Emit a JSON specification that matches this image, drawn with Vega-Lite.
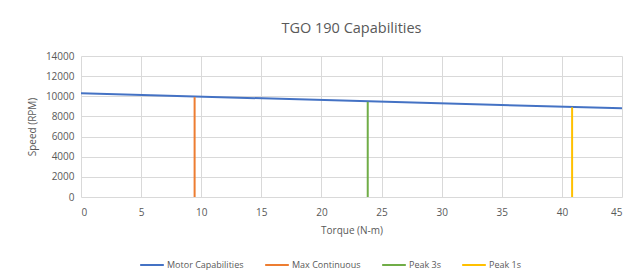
{
  "$schema": "https://vega.github.io/schema/vega-lite/v6.json",
  "width": 541,
  "height": 141,
  "autosize": {"type": "none"},
  "padding": {"left": 81, "top": 56, "right": 9, "bottom": 78},
  "background": "white",
  "title": {
    "text": "TGO 190 Capabilities",
    "font": "Open Sans",
    "fontSize": 14.5,
    "fontWeight": "normal",
    "color": "#595959",
    "offset": 15
  },
  "data": {
    "values": [
      {"series": "Motor Capabilities", "torque": 0, "speed": 10300, "o": 0},
      {"series": "Motor Capabilities", "torque": 45, "speed": 8800, "o": 1},
      {"series": "Max Continuous", "torque": 9.45, "speed": 0, "o": 0},
      {"series": "Max Continuous", "torque": 9.45, "speed": 9920, "o": 1},
      {"series": "Peak 3s", "torque": 23.85, "speed": 0, "o": 0},
      {"series": "Peak 3s", "torque": 23.85, "speed": 9450, "o": 1},
      {"series": "Peak 1s", "torque": 40.85, "speed": 0, "o": 0},
      {"series": "Peak 1s", "torque": 40.85, "speed": 8900, "o": 1}
    ]
  },
  "mark": {"type": "line", "strokeWidth": 2},
  "encoding": {
    "x": {
      "field": "torque", "type": "quantitative",
      "scale": {"domain": [0, 45], "nice": false, "zero": true},
      "axis": {"values": [0,5,10,15,20,25,30,35,40,45], "title": "Torque (N-m)", "titlePadding": 8, "labelPadding": 10}
    },
    "y": {
      "field": "speed", "type": "quantitative",
      "scale": {"domain": [0, 14000], "nice": false},
      "axis": {"values": [0,2000,4000,6000,8000,10000,12000,14000], "format": "d", "title": "Speed (RPM)", "titlePadding": 8}
    },
    "color": {
      "field": "series", "type": "nominal",
      "scale": {
        "domain": ["Motor Capabilities", "Max Continuous", "Peak 3s", "Peak 1s"],
        "range": ["#4472C4", "#ED7D31", "#70AD47", "#FFC000"]
      },
      "legend": {
        "title": null,
        "orient": "none",
        "legendX": 58,
        "legendY": 196,
        "direction": "horizontal",
        "symbolType": "stroke",
        "symbolSize": 560,
        "symbolStrokeWidth": 2,
        "columnPadding": 17,
        "labelOffset": 2
      }
    },
    "order": {"field": "o", "type": "quantitative"}
  },
  "config": {
    "view": {"stroke": null},
    "font": "Open Sans",
    "axis": {
      "grid": true,
      "gridColor": "#D9D9D9",
      "gridWidth": 1,
      "domain": false,
      "ticks": false,
      "labelFont": "Open Sans",
      "labelFontSize": 10,
      "labelColor": "#595959",
      "labelPadding": 7,
      "titleFont": "Open Sans",
      "titleFontSize": 10,
      "titleFontWeight": "normal",
      "titleColor": "#595959"
    },
    "legend": {
      "labelFont": "Open Sans",
      "labelFontSize": 9,
      "labelColor": "#595959"
    }
  }
}
